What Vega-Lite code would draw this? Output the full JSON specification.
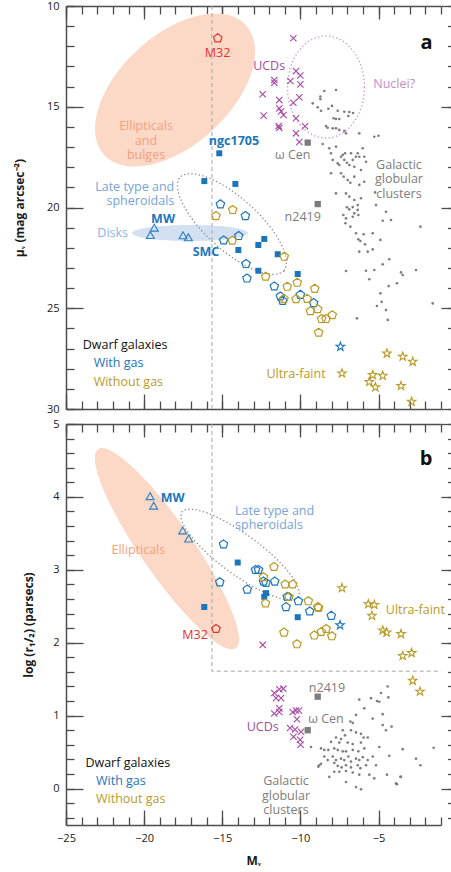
{
  "$schema": "https://vega.github.io/schema/vega-lite/v6.json",
  "autosize": {"type": "pad"},
  "padding": {"left": 13, "top": 0, "right": 0, "bottom": 0},
  "background": "white",
  "spacing": 15,
  "bounds": "flush",
  "config": {
    "view": {"stroke": null},
    "axis": {
      "grid": false,
      "domainColor": "#4d4d4d",
      "domainWidth": 1.5,
      "tickColor": "#4d4d4d",
      "tickWidth": 1.3,
      "labelFont": "Open Sans",
      "labelFontSize": 11,
      "labelColor": "#1a1a1a",
      "labelFlush": false,
      "labelOverlap": false,
      "titleFont": "Open Sans",
      "titleFontSize": 12,
      "titleFontWeight": "bold",
      "titleColor": "#1a1a1a"
    },
    "text": {"font": "Open Sans"}
  },
  "datasets": {
    "top_regions": [
      {"region": "Ellipticals and bulges", "mv": -18.02, "mu": 14.17},
      {"region": "Disks", "mv": -17.06, "mu": 21.27},
      {"region": "Late type and spheroidals", "mv": -14.38, "mu": 20.82},
      {"region": "Nuclei", "mv": -8.36, "mu": 14.02}
    ],
    "bottom_regions": [
      {"region": "Ellipticals", "mv": -18.54, "logr": 3.29},
      {"region": "Late type and spheroidals", "mv": -13.86, "logr": 3.21}
    ],
    "top_cut": [{"mv": -15.66}],
    "bottom_cut": [
      {"step": 1, "mv": -15.66, "logr": 5},
      {"step": 2, "mv": -15.66, "logr": 1.61},
      {"step": 3, "mv": -1, "logr": 1.61}
    ],
    "top_dwarfs": [
      {"grp": "With gas", "mv": -15.12, "mu": 19.84},
      {"grp": "With gas", "mv": -13.52, "mu": 20.42},
      {"grp": "With gas", "mv": -14.91, "mu": 21.63},
      {"grp": "With gas", "mv": -13.95, "mu": 21.41},
      {"grp": "With gas", "mv": -13.48, "mu": 22.80},
      {"grp": "With gas", "mv": -13.42, "mu": 23.52},
      {"grp": "With gas", "mv": -11.67, "mu": 23.91},
      {"grp": "With gas", "mv": -11.28, "mu": 24.41},
      {"grp": "With gas", "mv": -11.13, "mu": 24.63},
      {"grp": "With gas", "mv": -10.0, "mu": 24.33},
      {"grp": "With gas", "mv": -9.15, "mu": 24.74},
      {"grp": "Without gas", "mv": -14.33, "mu": 20.12},
      {"grp": "Without gas", "mv": -15.4, "mu": 20.42},
      {"grp": "Without gas", "mv": -14.36, "mu": 21.64},
      {"grp": "Without gas", "mv": -11.03, "mu": 22.44},
      {"grp": "Without gas", "mv": -12.22, "mu": 23.43},
      {"grp": "Without gas", "mv": -10.84, "mu": 23.93},
      {"grp": "Without gas", "mv": -10.2, "mu": 23.73},
      {"grp": "Without gas", "mv": -9.08, "mu": 24.03},
      {"grp": "Without gas", "mv": -11.05, "mu": 24.53},
      {"grp": "Without gas", "mv": -10.28, "mu": 24.54},
      {"grp": "Without gas", "mv": -9.56, "mu": 24.53},
      {"grp": "Without gas", "mv": -9.36, "mu": 25.14},
      {"grp": "Without gas", "mv": -8.89, "mu": 25.04},
      {"grp": "Without gas", "mv": -8.64, "mu": 25.53},
      {"grp": "Without gas", "mv": -8.36, "mu": 25.53},
      {"grp": "Without gas", "mv": -7.96, "mu": 25.34},
      {"grp": "Without gas", "mv": -8.83, "mu": 26.21}
    ],
    "top_dwarf_sq": [
      {"mv": -15.19, "mu": 17.31},
      {"mv": -16.15, "mu": 18.69},
      {"mv": -14.16, "mu": 18.83},
      {"mv": -12.31, "mu": 21.56},
      {"mv": -12.69, "mu": 21.86},
      {"mv": -13.97, "mu": 22.11},
      {"mv": -11.45, "mu": 22.32},
      {"mv": -12.69, "mu": 23.14},
      {"mv": -10.17, "mu": 23.30}
    ],
    "top_spirals": [
      {"mv": -19.35, "mu": 21.0},
      {"mv": -19.6, "mu": 21.37},
      {"mv": -17.51, "mu": 21.38},
      {"mv": -17.17, "mu": 21.48}
    ],
    "top_uf": [
      {"grp": "With gas", "mv": -7.44, "mu": 26.91},
      {"grp": "Without gas", "mv": -4.46, "mu": 27.24},
      {"grp": "Without gas", "mv": -3.45, "mu": 27.40},
      {"grp": "Without gas", "mv": -2.81, "mu": 27.65},
      {"grp": "Without gas", "mv": -7.34, "mu": 28.23},
      {"grp": "Without gas", "mv": -5.37, "mu": 28.31},
      {"grp": "Without gas", "mv": -4.73, "mu": 28.35},
      {"grp": "Without gas", "mv": -5.59, "mu": 28.65},
      {"grp": "Without gas", "mv": -5.2, "mu": 28.92},
      {"grp": "Without gas", "mv": -3.56, "mu": 28.85},
      {"grp": "Without gas", "mv": -2.88, "mu": 29.64}
    ],
    "top_m32": [{"mv": -15.29, "mu": 11.6}],
    "top_ucd": [
      {"mv": -10.45, "mu": 11.6}, {"mv": -10.28, "mu": 13.23}, {"mv": -11.67, "mu": 13.67},
      {"mv": -11.67, "mu": 13.81}, {"mv": -10.0, "mu": 13.45}, {"mv": -10.64, "mu": 13.72},
      {"mv": -10.0, "mu": 13.89}, {"mv": -12.41, "mu": 14.38}, {"mv": -11.35, "mu": 14.67},
      {"mv": -10.07, "mu": 14.53}, {"mv": -10.45, "mu": 14.8}, {"mv": -11.35, "mu": 15.08},
      {"mv": -11.24, "mu": 15.23}, {"mv": -11.08, "mu": 15.41}, {"mv": -12.35, "mu": 15.44},
      {"mv": -10.28, "mu": 15.57}, {"mv": -9.7, "mu": 15.97}, {"mv": -11.39, "mu": 15.96},
      {"mv": -11.35, "mu": 16.05}, {"mv": -10.28, "mu": 16.32}, {"mv": -10.07, "mu": 16.75}
    ],
    "top_gc_named": [
      {"name": "ω Cen", "mv": -9.53, "mu": 16.78},
      {"name": "NGC 2419", "mv": -8.89, "mu": 19.83}
    ],
    "top_gc": [
      {"mv": -8.47, "mu": 14.22}, {"mv": -7.72, "mu": 14.17}, {"mv": -8.72, "mu": 14.49}, {"mv": -8.72, "mu": 14.62},
      {"mv": -9.21, "mu": 14.83}, {"mv": -8.89, "mu": 15.03}, {"mv": -8.68, "mu": 15.2}, {"mv": -8.21, "mu": 15.1},
      {"mv": -7.98, "mu": 14.96}, {"mv": -7.61, "mu": 15.2}, {"mv": -7.19, "mu": 15.25}, {"mv": -6.87, "mu": 15.26},
      {"mv": -6.63, "mu": 15.31}, {"mv": -6.93, "mu": 15.46}, {"mv": -7.87, "mu": 15.57}, {"mv": -7.72, "mu": 15.61},
      {"mv": -7.51, "mu": 15.61}, {"mv": -8.36, "mu": 15.96}, {"mv": -8.25, "mu": 16.04}, {"mv": -7.93, "mu": 16.07},
      {"mv": -7.72, "mu": 16.07}, {"mv": -7.51, "mu": 16.15}, {"mv": -7.19, "mu": 16.2}, {"mv": -7.08, "mu": 16.32},
      {"mv": -6.23, "mu": 16.32}, {"mv": -5.27, "mu": 16.49}, {"mv": -5.0, "mu": 16.44}, {"mv": -8.57, "mu": 16.85},
      {"mv": -8.15, "mu": 17.06}, {"mv": -8.04, "mu": 17.31}, {"mv": -7.72, "mu": 16.98}, {"mv": -7.4, "mu": 17.48},
      {"mv": -7.29, "mu": 17.39}, {"mv": -7.14, "mu": 17.31}, {"mv": -6.76, "mu": 17.31}, {"mv": -6.33, "mu": 17.31},
      {"mv": -6.23, "mu": 17.48}, {"mv": -6.01, "mu": 17.06}, {"mv": -5.91, "mu": 17.48}, {"mv": -7.93, "mu": 17.64},
      {"mv": -7.61, "mu": 17.81}, {"mv": -7.51, "mu": 17.89}, {"mv": -7.19, "mu": 17.64}, {"mv": -7.02, "mu": 17.78},
      {"mv": -6.87, "mu": 17.89}, {"mv": -6.65, "mu": 17.64}, {"mv": -6.44, "mu": 17.48}, {"mv": -6.55, "mu": 17.98},
      {"mv": -6.12, "mu": 18.14}, {"mv": -5.8, "mu": 17.73}, {"mv": -8.04, "mu": 18.3}, {"mv": -7.4, "mu": 18.3},
      {"mv": -7.23, "mu": 18.47}, {"mv": -6.97, "mu": 18.64}, {"mv": -6.8, "mu": 18.77}, {"mv": -6.55, "mu": 18.47},
      {"mv": -6.23, "mu": 18.88}, {"mv": -5.91, "mu": 18.72}, {"mv": -7.72, "mu": 19.3}, {"mv": -7.08, "mu": 19.3},
      {"mv": -6.87, "mu": 19.46}, {"mv": -6.55, "mu": 19.63}, {"mv": -6.12, "mu": 19.54}, {"mv": -5.22, "mu": 19.25},
      {"mv": -7.02, "mu": 19.99}, {"mv": -6.87, "mu": 20.09}, {"mv": -6.55, "mu": 20.29}, {"mv": -5.16, "mu": 19.88},
      {"mv": -4.52, "mu": 20.21}, {"mv": -6.65, "mu": 19.98}, {"mv": -6.33, "mu": 19.88}, {"mv": -6.33, "mu": 20.12},
      {"mv": -6.29, "mu": 20.37}, {"mv": -7.25, "mu": 20.37}, {"mv": -7.08, "mu": 20.54}, {"mv": -6.65, "mu": 20.46},
      {"mv": -4.2, "mu": 20.62}, {"mv": -4.73, "mu": 20.66}, {"mv": -7.12, "mu": 20.78}, {"mv": -6.8, "mu": 20.95},
      {"mv": -2.32, "mu": 20.95}, {"mv": -6.44, "mu": 21.28}, {"mv": -5.95, "mu": 21.33}, {"mv": -5.37, "mu": 21.28},
      {"mv": -6.29, "mu": 21.58}, {"mv": -6.16, "mu": 21.66}, {"mv": -5.86, "mu": 21.83}, {"mv": -4.88, "mu": 21.61},
      {"mv": -6.23, "mu": 22.19}, {"mv": -5.69, "mu": 22.19}, {"mv": -5.37, "mu": 22.08}, {"mv": -4.31, "mu": 22.57},
      {"mv": -4.73, "mu": 22.82}, {"mv": -7.08, "mu": 23.15}, {"mv": -5.8, "mu": 23.14}, {"mv": -5.27, "mu": 23.1},
      {"mv": -3.56, "mu": 23.22}, {"mv": -3.45, "mu": 23.35}, {"mv": -2.6, "mu": 23.1}, {"mv": -5.59, "mu": 23.56},
      {"mv": -3.82, "mu": 23.76}, {"mv": -4.35, "mu": 23.9}, {"mv": -4.88, "mu": 24.26}, {"mv": -4.8, "mu": 24.68},
      {"mv": -5.1, "mu": 24.89}, {"mv": -4.52, "mu": 25.09}, {"mv": -1.53, "mu": 24.76}, {"mv": -6.38, "mu": 25.5},
      {"mv": -4.41, "mu": 25.58}
    ],
    "top_labels": [
      {"label": "M32", "role": "object", "grp": "M32", "mv": -15.3, "mu": 12.33},
      {"label": "UCDs", "role": "region", "grp": "UCD", "mv": -12.0, "mu": 12.98},
      {"label": "Nuclei?", "role": "region", "grp": "Nuclei", "mv": -4.0, "mu": 13.87},
      {"label": "ω Cen", "role": "object", "grp": "Globular clusters", "mv": -10.49, "mu": 17.4},
      {"label": "n2419", "role": "object", "grp": "Globular clusters", "mv": -9.85, "mu": 20.46},
      {"label": "Galactic\nglobular\nclusters", "role": "region", "grp": "Globular clusters", "mv": -3.69, "mu": 17.89},
      {"label": "Ellipticals\nand\nbulges", "role": "region", "grp": "Ellipticals", "mv": -19.88, "mu": 15.96},
      {"label": "Disks", "role": "region", "grp": "Disks", "mv": -22.01, "mu": 21.28},
      {"label": "Ultra-faint", "role": "region", "grp": "Without gas", "mv": -10.28, "mu": 28.26},
      {"label": "Late type and\nspheroidals", "role": "group", "grp": "Late type", "mv": -18.07, "mu": 18.97},
      {"label": "ngc1705", "role": "highlight", "grp": "With gas", "mv": -14.25, "mu": 16.72},
      {"label": "MW", "role": "highlight", "grp": "With gas", "mv": -18.79, "mu": 20.57},
      {"label": "SMC", "role": "highlight", "grp": "With gas", "mv": -16.04, "mu": 22.22},
      {"label": "Dwarf galaxies", "role": "key-title", "grp": "Key", "mv": -23.93, "mu": 26.82},
      {"label": "With gas", "role": "key", "grp": "With gas", "mv": -23.23, "mu": 27.73},
      {"label": "Without gas", "role": "key", "grp": "Without gas", "mv": -23.23, "mu": 28.65},
      {"label": "a", "role": "panel", "grp": "Key", "mv": -1.92, "mu": 11.85}
    ],
    "bottom_dwarfs": [
      {"grp": "With gas", "mv": -14.92, "logr": 3.35},
      {"grp": "With gas", "mv": -15.16, "logr": 2.83},
      {"grp": "With gas", "mv": -13.4, "logr": 2.73},
      {"grp": "With gas", "mv": -12.87, "logr": 3.0},
      {"grp": "With gas", "mv": -12.68, "logr": 3.0},
      {"grp": "With gas", "mv": -12.36, "logr": 2.84},
      {"grp": "With gas", "mv": -12.2, "logr": 2.82},
      {"grp": "With gas", "mv": -11.64, "logr": 2.84},
      {"grp": "With gas", "mv": -10.84, "logr": 2.63},
      {"grp": "With gas", "mv": -10.13, "logr": 2.57},
      {"grp": "With gas", "mv": -10.92, "logr": 2.49},
      {"grp": "With gas", "mv": -9.4, "logr": 2.43},
      {"grp": "With gas", "mv": -8.02, "logr": 2.37},
      {"grp": "Without gas", "mv": -11.69, "logr": 3.04},
      {"grp": "Without gas", "mv": -12.36, "logr": 2.9},
      {"grp": "Without gas", "mv": -10.97, "logr": 2.8},
      {"grp": "Without gas", "mv": -10.49, "logr": 2.8},
      {"grp": "Without gas", "mv": -10.73, "logr": 2.63},
      {"grp": "Without gas", "mv": -12.23, "logr": 2.54},
      {"grp": "Without gas", "mv": -9.49, "logr": 2.57},
      {"grp": "Without gas", "mv": -8.89, "logr": 2.49},
      {"grp": "Without gas", "mv": -8.83, "logr": 2.48},
      {"grp": "Without gas", "mv": -11.05, "logr": 2.14},
      {"grp": "Without gas", "mv": -10.22, "logr": 1.98},
      {"grp": "Without gas", "mv": -9.11, "logr": 2.1},
      {"grp": "Without gas", "mv": -8.66, "logr": 2.15},
      {"grp": "Without gas", "mv": -8.35, "logr": 2.19},
      {"grp": "Without gas", "mv": -7.99, "logr": 2.09}
    ],
    "bottom_dwarf_sq": [
      {"mv": -14.01, "logr": 3.1},
      {"mv": -12.2, "logr": 2.68},
      {"mv": -12.31, "logr": 2.63},
      {"mv": -10.17, "logr": 2.35},
      {"mv": -16.15, "logr": 2.49}
    ],
    "bottom_spirals": [
      {"mv": -19.62, "logr": 4.01},
      {"mv": -19.39, "logr": 3.88},
      {"mv": -17.53, "logr": 3.54},
      {"mv": -17.15, "logr": 3.43}
    ],
    "bottom_uf": [
      {"grp": "With gas", "mv": -7.46, "logr": 2.24},
      {"grp": "Without gas", "mv": -7.34, "logr": 2.75},
      {"grp": "Without gas", "mv": -5.65, "logr": 2.53},
      {"grp": "Without gas", "mv": -5.27, "logr": 2.52},
      {"grp": "Without gas", "mv": -5.42, "logr": 2.37},
      {"grp": "Without gas", "mv": -4.73, "logr": 2.17},
      {"grp": "Without gas", "mv": -4.48, "logr": 2.14},
      {"grp": "Without gas", "mv": -3.56, "logr": 2.12},
      {"grp": "Without gas", "mv": -3.45, "logr": 1.82},
      {"grp": "Without gas", "mv": -2.88, "logr": 1.86},
      {"grp": "Without gas", "mv": -2.81, "logr": 1.48},
      {"grp": "Without gas", "mv": -2.34, "logr": 1.33}
    ],
    "bottom_m32": [{"mv": -15.4, "logr": 2.19}],
    "bottom_ucd": [
      {"mv": -12.41, "logr": 1.97}, {"mv": -11.67, "logr": 1.31}, {"mv": -11.35, "logr": 1.36},
      {"mv": -11.09, "logr": 1.37}, {"mv": -11.56, "logr": 1.24}, {"mv": -11.24, "logr": 1.24},
      {"mv": -11.35, "logr": 1.1}, {"mv": -11.67, "logr": 1.03}, {"mv": -11.35, "logr": 1.05},
      {"mv": -10.49, "logr": 1.05}, {"mv": -10.28, "logr": 1.07}, {"mv": -10.09, "logr": 1.07},
      {"mv": -10.22, "logr": 0.95}, {"mv": -10.66, "logr": 0.83}, {"mv": -10.34, "logr": 0.81},
      {"mv": -9.96, "logr": 0.78}, {"mv": -10.44, "logr": 0.71}, {"mv": -10.02, "logr": 0.67},
      {"mv": -9.99, "logr": 0.6}
    ],
    "bottom_gc_named": [
      {"name": "ω Cen", "mv": -9.53, "logr": 0.8},
      {"name": "NGC 2419", "mv": -8.89, "logr": 1.26}
    ],
    "bottom_gc": [
      {"mv": -4.41, "logr": 1.4}, {"mv": -4.84, "logr": 1.31}, {"mv": -4.37, "logr": 1.25}, {"mv": -5.48, "logr": 1.24},
      {"mv": -5.1, "logr": 1.2}, {"mv": -4.95, "logr": 1.19}, {"mv": -6.23, "logr": 1.22}, {"mv": -5.91, "logr": 1.1},
      {"mv": -6.8, "logr": 0.92}, {"mv": -6.65, "logr": 0.9}, {"mv": -6.44, "logr": 1.01}, {"mv": -5.37, "logr": 0.96},
      {"mv": -4.73, "logr": 1.02}, {"mv": -4.73, "logr": 0.87}, {"mv": -4.52, "logr": 0.8}, {"mv": -4.16, "logr": 0.85},
      {"mv": -6.76, "logr": 0.8}, {"mv": -6.44, "logr": 0.77}, {"mv": -7.29, "logr": 0.8}, {"mv": -7.14, "logr": 0.73},
      {"mv": -7.72, "logr": 0.7}, {"mv": -7.4, "logr": 0.68}, {"mv": -6.12, "logr": 0.75}, {"mv": -5.95, "logr": 0.7},
      {"mv": -5.69, "logr": 0.7}, {"mv": -8.04, "logr": 0.64}, {"mv": -7.51, "logr": 0.63}, {"mv": -6.97, "logr": 0.63},
      {"mv": -6.65, "logr": 0.61}, {"mv": -6.12, "logr": 0.63}, {"mv": -9.32, "logr": 0.57}, {"mv": -8.68, "logr": 0.55},
      {"mv": -8.47, "logr": 0.53}, {"mv": -8.21, "logr": 0.53}, {"mv": -7.83, "logr": 0.55}, {"mv": -7.61, "logr": 0.53},
      {"mv": -7.29, "logr": 0.51}, {"mv": -7.08, "logr": 0.51}, {"mv": -6.65, "logr": 0.53}, {"mv": -6.29, "logr": 0.51},
      {"mv": -5.91, "logr": 0.55}, {"mv": -4.95, "logr": 0.57}, {"mv": -3.45, "logr": 0.54}, {"mv": -1.47, "logr": 0.56},
      {"mv": -8.47, "logr": 0.44}, {"mv": -8.25, "logr": 0.39}, {"mv": -7.93, "logr": 0.44}, {"mv": -7.72, "logr": 0.39},
      {"mv": -7.4, "logr": 0.41}, {"mv": -7.19, "logr": 0.39}, {"mv": -6.93, "logr": 0.44}, {"mv": -6.76, "logr": 0.37},
      {"mv": -6.44, "logr": 0.41}, {"mv": -6.23, "logr": 0.39}, {"mv": -6.01, "logr": 0.43}, {"mv": -5.69, "logr": 0.39},
      {"mv": -5.37, "logr": 0.44}, {"mv": -4.31, "logr": 0.45}, {"mv": -2.6, "logr": 0.41}, {"mv": -8.79, "logr": 0.32},
      {"mv": -7.83, "logr": 0.35}, {"mv": -7.61, "logr": 0.31}, {"mv": -7.36, "logr": 0.29}, {"mv": -7.08, "logr": 0.32},
      {"mv": -6.76, "logr": 0.29}, {"mv": -6.33, "logr": 0.32}, {"mv": -6.16, "logr": 0.28}, {"mv": -5.8, "logr": 0.32},
      {"mv": -5.16, "logr": 0.32}, {"mv": -2.32, "logr": 0.32}, {"mv": -7.83, "logr": 0.23}, {"mv": -7.51, "logr": 0.23},
      {"mv": -7.08, "logr": 0.24}, {"mv": -6.65, "logr": 0.22}, {"mv": -6.23, "logr": 0.19}, {"mv": -5.59, "logr": 0.19},
      {"mv": -4.46, "logr": 0.19}, {"mv": -3.6, "logr": 0.16}, {"mv": -8.15, "logr": 0.16}, {"mv": -7.08, "logr": 0.09},
      {"mv": -5.27, "logr": 0.14}, {"mv": -3.88, "logr": 0.07}, {"mv": -6.44, "logr": 0.02}, {"mv": -6.12, "logr": -0.01},
      {"mv": -8.85, "logr": 0.3}, {"mv": -8.68, "logr": 0.34}, {"mv": -3.82, "logr": 0.06}, {"mv": -3.56, "logr": 0.16}
    ],
    "bottom_labels": [
      {"label": "MW", "role": "highlight", "grp": "With gas", "mv": -18.17, "logr": 3.99},
      {"label": "M32", "role": "object", "grp": "M32", "mv": -16.74, "logr": 2.11},
      {"label": "Ellipticals", "role": "region", "grp": "Ellipticals", "mv": -20.37, "logr": 3.27},
      {"label": "Late type and\nspheroidals", "role": "group", "grp": "Late type", "mv": -14.18, "logr": 3.81},
      {"label": "b", "role": "panel", "grp": "Key", "mv": -1.96, "logr": 4.52},
      {"label": "Ultra-faint", "role": "region", "grp": "Without gas", "mv": -2.64, "logr": 2.45},
      {"label": "n2419", "role": "object", "grp": "Globular clusters", "mv": -8.3, "logr": 1.38},
      {"label": "ω Cen", "role": "object", "grp": "Globular clusters", "mv": -8.36, "logr": 0.95},
      {"label": "UCDs", "role": "region", "grp": "UCD", "mv": -12.41, "logr": 0.84},
      {"label": "Galactic\nglobular\nclusters", "role": "region", "grp": "Globular clusters", "mv": -10.92, "logr": 0.1},
      {"label": "Dwarf galaxies", "role": "key-title", "grp": "Key", "mv": -23.76, "logr": 0.35},
      {"label": "With gas", "role": "key", "grp": "With gas", "mv": -23.08, "logr": 0.1},
      {"label": "Without gas", "role": "key", "grp": "Without gas", "mv": -23.08, "logr": -0.15}
    ]
  },
  "vconcat": [
    {
      "width": 375,
      "height": 403,
      "resolve": {"axis": {"x": "independent", "y": "independent"}},
      "layer": [
        {
          "data": {"name": "top_regions"},
          "transform": [{"filter": "datum.region == 'Ellipticals and bulges'"}],
          "mark": {"type": "point", "shape": "M0.708,-0.649A0.96,0.55,-42.5,0,1,-0.708,0.649A0.96,0.55,-42.5,0,1,0.708,-0.649Z", "size": 40000, "filled": true, "color": "#fcd9c7", "opacity": 1, "strokeWidth": 0},
          "encoding": {
            "x": {"field": "mv", "type": "quantitative", "scale": {"domain": [-25, -1], "nice": false, "zero": false},
                  "axis": {"orient": "top", "values": [-25, -20, -15, -10, -5], "ticks": false, "labels": false, "domain": true, "title": null}},
            "y": {"field": "mu", "type": "quantitative", "scale": {"domain": [10, 30], "reverse": true, "nice": false, "zero": false},
                  "axis": {"orient": "left", "values": [10, 15, 20, 25, 30], "ticks": false, "labelPadding": 7, "domain": true, "title": "μᵥ (mag arcsec⁻²)", "titlePadding": 20}}
          }
        },
        {
          "data": {"name": "top_regions"},
          "transform": [{"filter": "datum.region == 'Disks'"}],
          "mark": {"type": "point", "shape": "M0.58,0A0.58,0.08,0,0,1,-0.58,0A0.58,0.08,0,0,1,0.58,0Z", "size": 40000, "filled": true, "color": "#d3e0f2", "opacity": 1, "strokeWidth": 0},
          "encoding": {
            "x": {"field": "mv", "type": "quantitative",
                  "axis": {"orient": "top", "offset": -13, "values": [-25, -20, -15, -10, -5], "tickSize": 13, "labels": false, "domain": false, "title": null}},
            "y": {"field": "mu", "type": "quantitative",
                  "axis": {"orient": "left", "offset": -17, "values": [10, 15, 20, 25, 30], "tickSize": 17, "labels": false, "domain": false, "title": null}}
          }
        },
        {
          "data": {"name": "top_regions"},
          "transform": [{"filter": "datum.region == 'Late type and spheroidals'"}],
          "mark": {"type": "point", "shape": "M0.52,0.468A0.7,0.27,42,0,1,-0.52,-0.468A0.7,0.27,42,0,1,0.52,0.468Z", "size": 40000, "filled": false, "color": "#8a8a8a", "opacity": 1, "strokeWidth": 1.3, "strokeDash": [1.3, 2.4]},
          "encoding": {
            "x": {"field": "mv", "type": "quantitative",
                  "axis": {"orient": "top", "offset": -8, "values": [-25, -24, -23, -22, -21, -20, -19, -18, -17, -16, -15, -14, -13, -12, -11, -10, -9, -8, -7, -6, -5, -4, -3, -2, -1], "tickSize": 8, "labels": false, "domain": false, "title": null}},
            "y": {"field": "mu", "type": "quantitative",
                  "axis": {"orient": "left", "offset": -8, "values": [10, 11, 12, 13, 14, 15, 16, 17, 18, 19, 20, 21, 22, 23, 24, 25, 26, 27, 28, 29, 30], "tickSize": 8, "labels": false, "domain": false, "title": null}}
          }
        },
        {
          "data": {"name": "top_regions"},
          "transform": [{"filter": "datum.region == 'Nuclei'"}],
          "mark": {"type": "point", "shape": "M0.385,0A0.385,0.51,0,0,1,-0.385,0A0.385,0.51,0,0,1,0.385,0Z", "size": 40000, "filled": false, "color": "#c994d2", "opacity": 1, "strokeWidth": 1.3, "strokeDash": [1.3, 2.4]},
          "encoding": {
            "x": {"field": "mv", "type": "quantitative",
                  "axis": {"orient": "bottom", "values": [-25, -20, -15, -10, -5], "ticks": false, "labels": false, "domain": true, "title": null}},
            "y": {"field": "mu", "type": "quantitative",
                  "axis": {"orient": "right", "values": [10, 15, 20, 25, 30], "tickSize": 11, "labels": false, "domain": false, "title": null}}
          }
        },
        {
          "data": {"name": "top_cut"},
          "mark": {"type": "rule", "color": "#a6a6a6", "strokeWidth": 1, "strokeDash": [4, 3]},
          "encoding": {"x": {"field": "mv", "type": "quantitative",
                  "axis": {"orient": "bottom", "offset": -15, "values": [-25, -20, -15, -10, -5], "tickSize": 15, "labels": false, "domain": false, "title": null}}}
        },
        {
          "data": {"name": "top_gc"},
          "mark": {"type": "point", "shape": "circle", "size": 7, "filled": true, "color": "#7d7d7d", "opacity": 1},
          "encoding": {
            "x": {"field": "mv", "type": "quantitative",
                  "axis": {"orient": "bottom", "offset": -8, "values": [-25, -24, -23, -22, -21, -20, -19, -18, -17, -16, -15, -14, -13, -12, -11, -10, -9, -8, -7, -6, -5, -4, -3, -2, -1], "tickSize": 8, "labels": false, "domain": false, "title": null}},
            "y": {"field": "mu", "type": "quantitative",
                  "axis": {"orient": "right", "offset": 6.5, "values": [10, 11, 12, 13, 14, 15, 16, 17, 18, 19, 20, 21, 22, 23, 24, 25, 26, 27, 28, 29, 30], "tickSize": 4.5, "labels": false, "domain": false, "title": null}}
          }
        },
        {
          "data": {"name": "top_ucd"},
          "mark": {"type": "point", "shape": "M-1,-1L1,1M-1,1L1,-1", "size": 40, "filled": false, "color": "#a74aa5", "opacity": 1, "strokeWidth": 1.1},
          "encoding": {"x": {"field": "mv", "type": "quantitative", "axis": null}, "y": {"field": "mu", "type": "quantitative", "axis": null}}
        },
        {
          "data": {"name": "top_gc_named"},
          "mark": {"type": "point", "shape": "square", "size": 40, "filled": true, "color": "#7d7d7d", "opacity": 1},
          "encoding": {"x": {"field": "mv", "type": "quantitative", "axis": null}, "y": {"field": "mu", "type": "quantitative", "axis": null}}
        },
        {
          "data": {"name": "top_dwarf_sq"},
          "mark": {"type": "point", "shape": "square", "size": 36, "filled": true, "color": "#1c75bc", "opacity": 1},
          "encoding": {"x": {"field": "mv", "type": "quantitative", "axis": null}, "y": {"field": "mu", "type": "quantitative", "axis": null}}
        },
        {
          "data": {"name": "top_spirals"},
          "mark": {"type": "point", "shape": "triangle-up", "size": 64, "filled": false, "color": "#2a80c6", "opacity": 1, "strokeWidth": 1.1},
          "encoding": {"x": {"field": "mv", "type": "quantitative", "axis": null}, "y": {"field": "mu", "type": "quantitative", "axis": null}}
        },
        {
          "data": {"name": "top_dwarfs"},
          "mark": {"type": "point", "shape": "M0,-1L0.951,-0.309L0.588,0.809L-0.588,0.809L-0.951,-0.309Z", "size": 78, "filled": false, "opacity": 1, "strokeWidth": 1.2},
          "encoding": {
            "x": {"field": "mv", "type": "quantitative", "axis": null},
            "y": {"field": "mu", "type": "quantitative", "axis": null},
            "color": {"field": "grp", "type": "nominal", "legend": null,
                      "scale": {"domain": ["With gas", "Without gas", "M32", "UCD", "Nuclei", "Globular clusters", "Ellipticals", "Late type", "Disks", "Key"],
                                "range": ["#1c75bc", "#b89b25", "#e4322b", "#a74aa5", "#c48ccf", "#7d7d7d", "#f3a07c", "#76a3dc", "#8db2e3", "#111111"]}}
          }
        },
        {
          "data": {"name": "top_m32"},
          "mark": {"type": "point", "shape": "M0,-1L0.951,-0.309L0.588,0.809L-0.588,0.809L-0.951,-0.309Z", "size": 78, "filled": false, "color": "#e4322b", "opacity": 1, "strokeWidth": 1.2},
          "encoding": {"x": {"field": "mv", "type": "quantitative", "axis": null}, "y": {"field": "mu", "type": "quantitative", "axis": null}}
        },
        {
          "data": {"name": "top_uf"},
          "mark": {"type": "point", "shape": "M0,-1L0.235,-0.324L0.951,-0.309L0.38,0.124L0.588,0.809L0,0.4L-0.588,0.809L-0.38,0.124L-0.951,-0.309L-0.235,-0.324Z", "size": 81, "filled": false, "opacity": 1, "strokeWidth": 1.1},
          "encoding": {
            "x": {"field": "mv", "type": "quantitative", "axis": null},
            "y": {"field": "mu", "type": "quantitative", "axis": null},
            "color": {"field": "grp", "type": "nominal", "legend": null,
                      "scale": {"domain": ["With gas", "Without gas", "M32", "UCD", "Nuclei", "Globular clusters", "Ellipticals", "Late type", "Disks", "Key"],
                                "range": ["#1c75bc", "#b89b25", "#e4322b", "#a74aa5", "#c48ccf", "#7d7d7d", "#f3a07c", "#76a3dc", "#8db2e3", "#111111"]}}
          }
        },
        {
          "data": {"name": "top_labels"},
          "transform": [{"filter": "datum.role == 'region' || datum.role == 'object'"}],
          "mark": {"type": "text", "fontSize": 12.5, "lineBreak": "\n", "lineHeight": 14.5, "align": "center", "baseline": "middle"},
          "encoding": {
            "x": {"field": "mv", "type": "quantitative", "axis": null},
            "y": {"field": "mu", "type": "quantitative", "axis": null},
            "text": {"field": "label"},
            "color": {"field": "grp", "type": "nominal", "legend": null,
                      "scale": {"domain": ["With gas", "Without gas", "M32", "UCD", "Nuclei", "Globular clusters", "Ellipticals", "Late type", "Disks", "Key"],
                                "range": ["#1c75bc", "#b89b25", "#e4322b", "#a74aa5", "#c48ccf", "#7d7d7d", "#f3a07c", "#76a3dc", "#8db2e3", "#111111"]}}
          }
        },
        {
          "data": {"name": "top_labels"},
          "transform": [{"filter": "datum.role == 'group'"}],
          "mark": {"type": "text", "fontSize": 12.5, "lineBreak": "\n", "lineHeight": 14.5, "align": "right", "baseline": "middle"},
          "encoding": {
            "x": {"field": "mv", "type": "quantitative", "axis": null},
            "y": {"field": "mu", "type": "quantitative", "axis": null},
            "text": {"field": "label"},
            "color": {"field": "grp", "type": "nominal", "legend": null,
                      "scale": {"domain": ["With gas", "Without gas", "M32", "UCD", "Nuclei", "Globular clusters", "Ellipticals", "Late type", "Disks", "Key"],
                                "range": ["#1c75bc", "#b89b25", "#e4322b", "#a74aa5", "#c48ccf", "#7d7d7d", "#f3a07c", "#76a3dc", "#8db2e3", "#111111"]}}
          }
        },
        {
          "data": {"name": "top_labels"},
          "transform": [{"filter": "datum.role == 'highlight'"}],
          "mark": {"type": "text", "fontSize": 12.5, "fontWeight": "bold", "align": "center", "baseline": "middle"},
          "encoding": {
            "x": {"field": "mv", "type": "quantitative", "axis": null},
            "y": {"field": "mu", "type": "quantitative", "axis": null},
            "text": {"field": "label"},
            "color": {"field": "grp", "type": "nominal", "legend": null,
                      "scale": {"domain": ["With gas", "Without gas", "M32", "UCD", "Nuclei", "Globular clusters", "Ellipticals", "Late type", "Disks", "Key"],
                                "range": ["#1c75bc", "#b89b25", "#e4322b", "#a74aa5", "#c48ccf", "#7d7d7d", "#f3a07c", "#76a3dc", "#8db2e3", "#111111"]}}
          }
        },
        {
          "data": {"name": "top_labels"},
          "transform": [{"filter": "datum.role == 'key' || datum.role == 'key-title'"}],
          "mark": {"type": "text", "fontSize": 12.5, "align": "left", "baseline": "middle"},
          "encoding": {
            "x": {"field": "mv", "type": "quantitative", "axis": null},
            "y": {"field": "mu", "type": "quantitative", "axis": null},
            "text": {"field": "label"},
            "fontWeight": {"condition": {"test": "datum.role == 'key-title'", "value": "bold"}, "value": "normal"},
            "color": {"field": "grp", "type": "nominal", "legend": null,
                      "scale": {"domain": ["With gas", "Without gas", "M32", "UCD", "Nuclei", "Globular clusters", "Ellipticals", "Late type", "Disks", "Key"],
                                "range": ["#1c75bc", "#b89b25", "#e4322b", "#a74aa5", "#c48ccf", "#7d7d7d", "#f3a07c", "#76a3dc", "#8db2e3", "#111111"]}}
          }
        },
        {
          "data": {"name": "top_labels"},
          "transform": [{"filter": "datum.role == 'panel'"}],
          "mark": {"type": "text", "fontSize": 20, "fontWeight": "bold", "align": "center", "baseline": "middle", "color": "#111111"},
          "encoding": {
            "x": {"field": "mv", "type": "quantitative", "axis": null},
            "y": {"field": "mu", "type": "quantitative", "axis": null},
            "text": {"field": "label"}
          }
        }
      ]
    },
    {
      "width": 375,
      "height": 401,
      "resolve": {"axis": {"x": "independent", "y": "independent"}},
      "layer": [
        {
          "data": {"name": "bottom_regions"},
          "transform": [{"filter": "datum.region == 'Ellipticals'"}],
          "mark": {"type": "point", "shape": "M0.689,0.995A1.21,0.26,55.3,0,1,-0.689,-0.995A1.21,0.26,55.3,0,1,0.689,0.995Z", "size": 40000, "filled": true, "color": "#fcd9c7", "opacity": 1, "strokeWidth": 0},
          "encoding": {
            "x": {"field": "mv", "type": "quantitative", "scale": {"domain": [-25, -1], "nice": false, "zero": false},
                  "axis": {"orient": "bottom", "values": [-25, -20, -15, -10, -5], "ticks": false, "labelPadding": 7, "domain": true, "title": "Mᵥ", "titlePadding": 12}},
            "y": {"field": "logr", "type": "quantitative", "scale": {"domain": [-0.5, 5], "nice": false, "zero": false},
                  "axis": {"orient": "left", "values": [0, 1, 2, 3, 4, 5], "ticks": false, "labelPadding": 7, "domain": true, "title": "log (r₁/₂) (parsecs)", "titlePadding": 17}}
          }
        },
        {
          "data": {"name": "bottom_regions"},
          "transform": [{"filter": "datum.region == 'Late type and spheroidals'"}],
          "mark": {"type": "point", "shape": "M0.581,0.425A0.72,0.205,36.2,0,1,-0.581,-0.425A0.72,0.205,36.2,0,1,0.581,0.425Z", "size": 40000, "filled": false, "color": "#8a8a8a", "opacity": 1, "strokeWidth": 1.3, "strokeDash": [1.3, 2.4]},
          "encoding": {
            "x": {"field": "mv", "type": "quantitative",
                  "axis": {"orient": "bottom", "offset": -15, "values": [-25, -20, -15, -10, -5], "tickSize": 15, "labels": false, "domain": false, "title": null}},
            "y": {"field": "logr", "type": "quantitative",
                  "axis": {"orient": "left", "offset": -17, "values": [0, 1, 2, 3, 4, 5], "tickSize": 17, "labels": false, "domain": false, "title": null}}
          }
        },
        {
          "data": {"name": "bottom_cut"},
          "mark": {"type": "line", "color": "#a6a6a6", "strokeWidth": 1, "strokeDash": [4, 3]},
          "encoding": {
            "x": {"field": "mv", "type": "quantitative",
                  "axis": {"orient": "bottom", "offset": -8, "values": [-25, -24, -23, -22, -21, -20, -19, -18, -17, -16, -15, -14, -13, -12, -11, -10, -9, -8, -7, -6, -5, -4, -3, -2, -1], "tickSize": 8, "labels": false, "domain": false, "title": null}},
            "y": {"field": "logr", "type": "quantitative",
                  "axis": {"orient": "left", "offset": -8, "values": [-0.4, -0.2, 0, 0.2, 0.4, 0.6, 0.8, 1, 1.2, 1.4, 1.6, 1.8, 2, 2.2, 2.4, 2.6, 2.8, 3, 3.2, 3.4, 3.6, 3.8, 4, 4.2, 4.4, 4.6, 4.8, 5], "tickSize": 8, "labels": false, "domain": false, "title": null}},
            "order": {"field": "step", "type": "quantitative"}
          }
        },
        {
          "data": {"name": "bottom_gc"},
          "mark": {"type": "point", "shape": "circle", "size": 7, "filled": true, "color": "#7d7d7d", "opacity": 1},
          "encoding": {
            "x": {"field": "mv", "type": "quantitative",
                  "axis": {"orient": "top", "values": [-25, -20, -15, -10, -5], "ticks": false, "labels": false, "domain": true, "title": null}},
            "y": {"field": "logr", "type": "quantitative",
                  "axis": {"orient": "right", "values": [0, 1, 2, 3, 4, 5], "tickSize": 11, "labels": false, "domain": false, "title": null}}
          }
        },
        {
          "data": {"name": "bottom_ucd"},
          "mark": {"type": "point", "shape": "M-1,-1L1,1M-1,1L1,-1", "size": 40, "filled": false, "color": "#a74aa5", "opacity": 1, "strokeWidth": 1.1},
          "encoding": {
            "x": {"field": "mv", "type": "quantitative",
                  "axis": {"orient": "top", "offset": -13, "values": [-25, -20, -15, -10, -5], "tickSize": 13, "labels": false, "domain": false, "title": null}},
            "y": {"field": "logr", "type": "quantitative",
                  "axis": {"orient": "right", "offset": 6.5, "values": [-0.4, -0.2, 0, 0.2, 0.4, 0.6, 0.8, 1, 1.2, 1.4, 1.6, 1.8, 2, 2.2, 2.4, 2.6, 2.8, 3, 3.2, 3.4, 3.6, 3.8, 4, 4.2, 4.4, 4.6, 4.8, 5], "tickSize": 4.5, "labels": false, "domain": false, "title": null}}
          }
        },
        {
          "data": {"name": "bottom_gc_named"},
          "mark": {"type": "point", "shape": "square", "size": 40, "filled": true, "color": "#7d7d7d", "opacity": 1},
          "encoding": {
            "x": {"field": "mv", "type": "quantitative",
                  "axis": {"orient": "top", "offset": -8, "values": [-25, -24, -23, -22, -21, -20, -19, -18, -17, -16, -15, -14, -13, -12, -11, -10, -9, -8, -7, -6, -5, -4, -3, -2, -1], "tickSize": 8, "labels": false, "domain": false, "title": null}},
            "y": {"field": "logr", "type": "quantitative", "axis": null}
          }
        },
        {
          "data": {"name": "bottom_dwarf_sq"},
          "mark": {"type": "point", "shape": "square", "size": 36, "filled": true, "color": "#1c75bc", "opacity": 1},
          "encoding": {"x": {"field": "mv", "type": "quantitative", "axis": null}, "y": {"field": "logr", "type": "quantitative", "axis": null}}
        },
        {
          "data": {"name": "bottom_spirals"},
          "mark": {"type": "point", "shape": "triangle-up", "size": 64, "filled": false, "color": "#2a80c6", "opacity": 1, "strokeWidth": 1.1},
          "encoding": {"x": {"field": "mv", "type": "quantitative", "axis": null}, "y": {"field": "logr", "type": "quantitative", "axis": null}}
        },
        {
          "data": {"name": "bottom_dwarfs"},
          "mark": {"type": "point", "shape": "M0,-1L0.951,-0.309L0.588,0.809L-0.588,0.809L-0.951,-0.309Z", "size": 78, "filled": false, "opacity": 1, "strokeWidth": 1.2},
          "encoding": {
            "x": {"field": "mv", "type": "quantitative", "axis": null},
            "y": {"field": "logr", "type": "quantitative", "axis": null},
            "color": {"field": "grp", "type": "nominal", "legend": null,
                      "scale": {"domain": ["With gas", "Without gas", "M32", "UCD", "Nuclei", "Globular clusters", "Ellipticals", "Late type", "Disks", "Key"],
                                "range": ["#1c75bc", "#b89b25", "#e4322b", "#a74aa5", "#c48ccf", "#7d7d7d", "#f3a07c", "#76a3dc", "#8db2e3", "#111111"]}}
          }
        },
        {
          "data": {"name": "bottom_m32"},
          "mark": {"type": "point", "shape": "M0,-1L0.951,-0.309L0.588,0.809L-0.588,0.809L-0.951,-0.309Z", "size": 78, "filled": false, "color": "#e4322b", "opacity": 1, "strokeWidth": 1.2},
          "encoding": {"x": {"field": "mv", "type": "quantitative", "axis": null}, "y": {"field": "logr", "type": "quantitative", "axis": null}}
        },
        {
          "data": {"name": "bottom_uf"},
          "mark": {"type": "point", "shape": "M0,-1L0.235,-0.324L0.951,-0.309L0.38,0.124L0.588,0.809L0,0.4L-0.588,0.809L-0.38,0.124L-0.951,-0.309L-0.235,-0.324Z", "size": 81, "filled": false, "opacity": 1, "strokeWidth": 1.1},
          "encoding": {
            "x": {"field": "mv", "type": "quantitative", "axis": null},
            "y": {"field": "logr", "type": "quantitative", "axis": null},
            "color": {"field": "grp", "type": "nominal", "legend": null,
                      "scale": {"domain": ["With gas", "Without gas", "M32", "UCD", "Nuclei", "Globular clusters", "Ellipticals", "Late type", "Disks", "Key"],
                                "range": ["#1c75bc", "#b89b25", "#e4322b", "#a74aa5", "#c48ccf", "#7d7d7d", "#f3a07c", "#76a3dc", "#8db2e3", "#111111"]}}
          }
        },
        {
          "data": {"name": "bottom_labels"},
          "transform": [{"filter": "datum.role == 'region' || datum.role == 'object'"}],
          "mark": {"type": "text", "fontSize": 12.5, "lineBreak": "\n", "lineHeight": 14.5, "align": "center", "baseline": "middle"},
          "encoding": {
            "x": {"field": "mv", "type": "quantitative", "axis": null},
            "y": {"field": "logr", "type": "quantitative", "axis": null},
            "text": {"field": "label"},
            "color": {"field": "grp", "type": "nominal", "legend": null,
                      "scale": {"domain": ["With gas", "Without gas", "M32", "UCD", "Nuclei", "Globular clusters", "Ellipticals", "Late type", "Disks", "Key"],
                                "range": ["#1c75bc", "#b89b25", "#e4322b", "#a74aa5", "#c48ccf", "#7d7d7d", "#f3a07c", "#76a3dc", "#8db2e3", "#111111"]}}
          }
        },
        {
          "data": {"name": "bottom_labels"},
          "transform": [{"filter": "datum.role == 'group'"}],
          "mark": {"type": "text", "fontSize": 12.5, "lineBreak": "\n", "lineHeight": 14.5, "align": "left", "baseline": "middle"},
          "encoding": {
            "x": {"field": "mv", "type": "quantitative", "axis": null},
            "y": {"field": "logr", "type": "quantitative", "axis": null},
            "text": {"field": "label"},
            "color": {"field": "grp", "type": "nominal", "legend": null,
                      "scale": {"domain": ["With gas", "Without gas", "M32", "UCD", "Nuclei", "Globular clusters", "Ellipticals", "Late type", "Disks", "Key"],
                                "range": ["#1c75bc", "#b89b25", "#e4322b", "#a74aa5", "#c48ccf", "#7d7d7d", "#f3a07c", "#76a3dc", "#8db2e3", "#111111"]}}
          }
        },
        {
          "data": {"name": "bottom_labels"},
          "transform": [{"filter": "datum.role == 'highlight'"}],
          "mark": {"type": "text", "fontSize": 12.5, "fontWeight": "bold", "align": "center", "baseline": "middle"},
          "encoding": {
            "x": {"field": "mv", "type": "quantitative", "axis": null},
            "y": {"field": "logr", "type": "quantitative", "axis": null},
            "text": {"field": "label"},
            "color": {"field": "grp", "type": "nominal", "legend": null,
                      "scale": {"domain": ["With gas", "Without gas", "M32", "UCD", "Nuclei", "Globular clusters", "Ellipticals", "Late type", "Disks", "Key"],
                                "range": ["#1c75bc", "#b89b25", "#e4322b", "#a74aa5", "#c48ccf", "#7d7d7d", "#f3a07c", "#76a3dc", "#8db2e3", "#111111"]}}
          }
        },
        {
          "data": {"name": "bottom_labels"},
          "transform": [{"filter": "datum.role == 'key' || datum.role == 'key-title'"}],
          "mark": {"type": "text", "fontSize": 12.5, "align": "left", "baseline": "middle"},
          "encoding": {
            "x": {"field": "mv", "type": "quantitative", "axis": null},
            "y": {"field": "logr", "type": "quantitative", "axis": null},
            "text": {"field": "label"},
            "fontWeight": {"condition": {"test": "datum.role == 'key-title'", "value": "bold"}, "value": "normal"},
            "color": {"field": "grp", "type": "nominal", "legend": null,
                      "scale": {"domain": ["With gas", "Without gas", "M32", "UCD", "Nuclei", "Globular clusters", "Ellipticals", "Late type", "Disks", "Key"],
                                "range": ["#1c75bc", "#b89b25", "#e4322b", "#a74aa5", "#c48ccf", "#7d7d7d", "#f3a07c", "#76a3dc", "#8db2e3", "#111111"]}}
          }
        },
        {
          "data": {"name": "bottom_labels"},
          "transform": [{"filter": "datum.role == 'panel'"}],
          "mark": {"type": "text", "fontSize": 20, "fontWeight": "bold", "align": "center", "baseline": "middle", "color": "#111111"},
          "encoding": {
            "x": {"field": "mv", "type": "quantitative", "axis": null},
            "y": {"field": "logr", "type": "quantitative", "axis": null},
            "text": {"field": "label"}
          }
        }
      ]
    }
  ]
}
